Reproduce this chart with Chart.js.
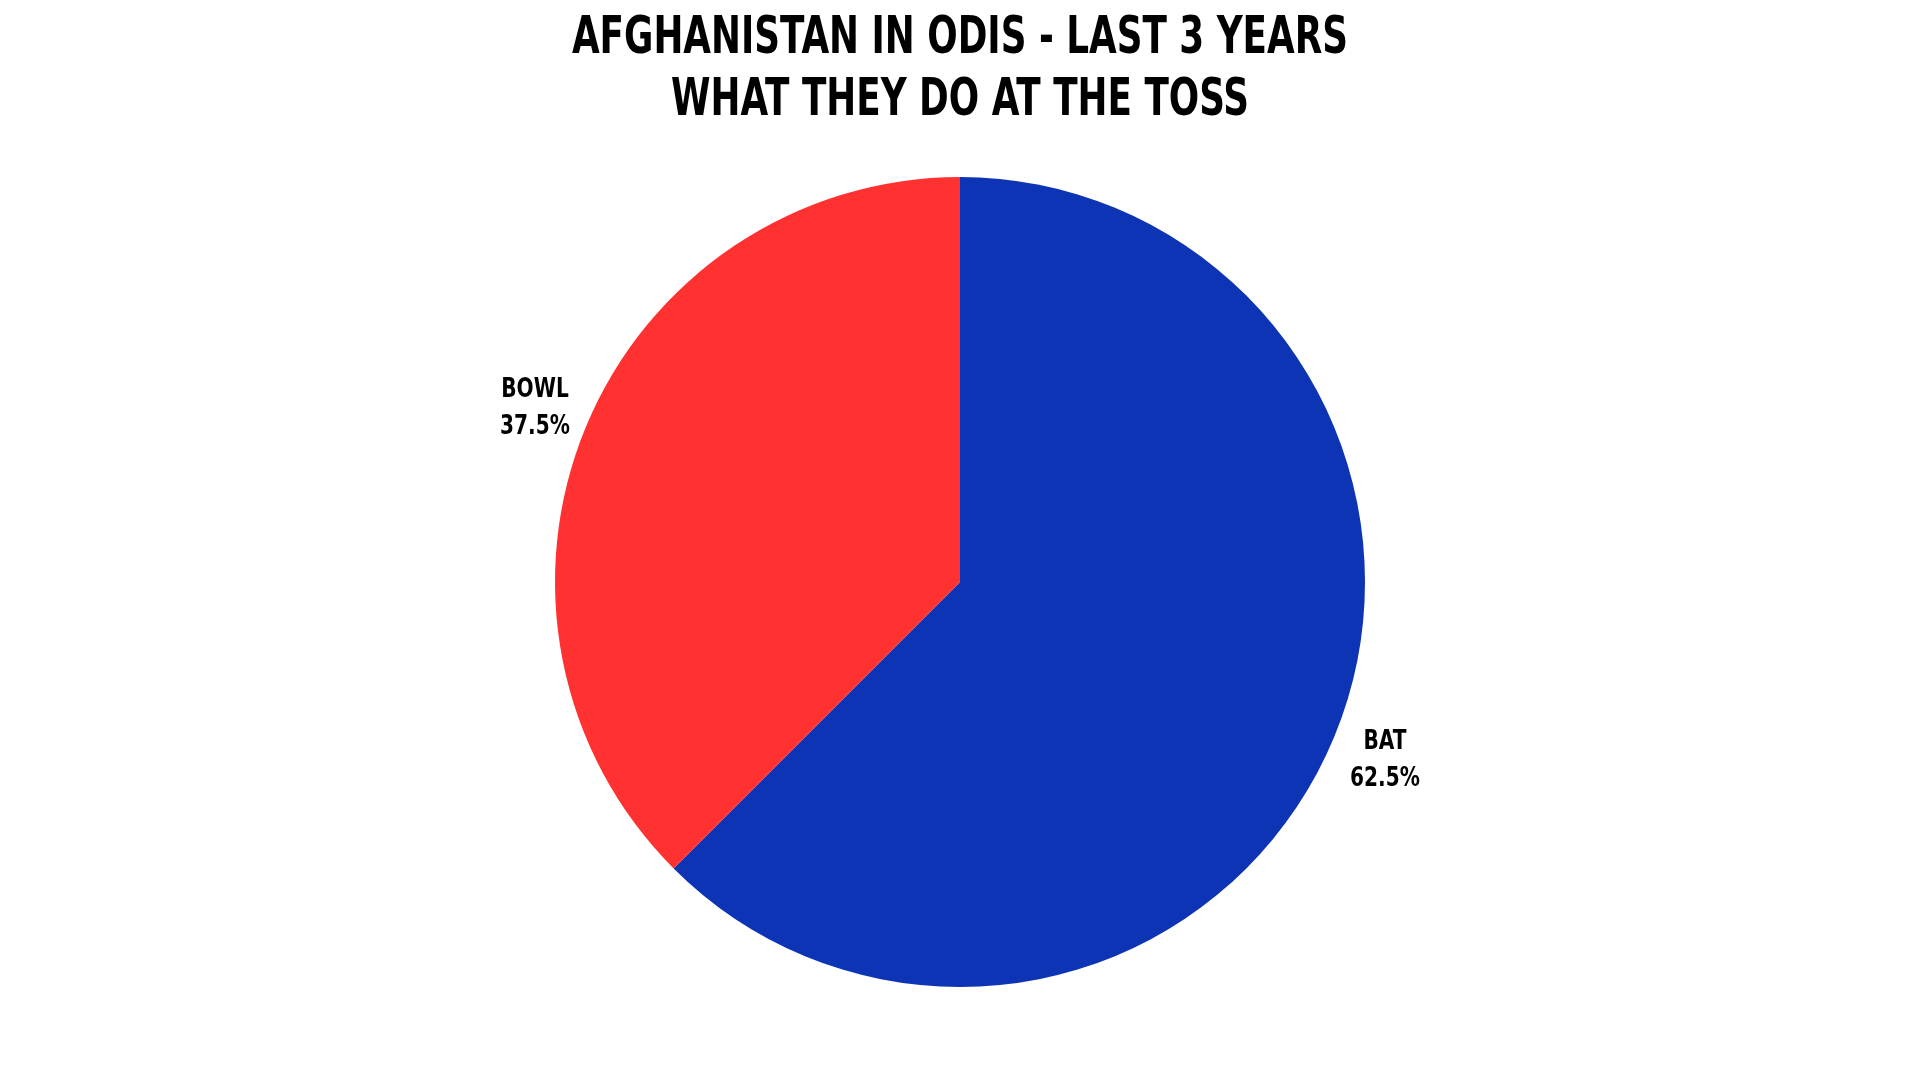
<!DOCTYPE html>
<html>
<head>
<meta charset="utf-8">
<script src="https://cdn.jsdelivr.net/npm/chart.js@4"></script>
<style>
  html, body { margin: 0; padding: 0; background: #ffffff; }
  #wrap { width: 1920px; height: 1080px; position: relative; }
</style>
</head>
<body>
<div id="wrap"><canvas id="chart"></canvas></div>
<script>
// Data
const labels  = ['BAT', 'BOWL'];
const shares  = [62.5, 37.5];
const colors  = ['#0c34b5', '#ff3131'];
const titleLines = ['AFGHANISTAN IN ODIS - LAST 3 YEARS', 'WHAT THEY DO AT THE TOSS'];

const FONT = '"DejaVu Sans Condensed", sans-serif';
const TITLE_SQUEEZE = 0.765;  // poster font is narrower than anything installed
const LABEL_SQUEEZE = 0.86;

// write text squeezed horizontally around its centre
function squeezedText(ctx, text, x, y, sx) {
  ctx.save();
  ctx.translate(x, y);
  ctx.scale(sx, 1);
  ctx.fillText(text, 0, 0);
  ctx.restore();
}

// two-line title at the top
const posterTitle = {
  id: 'posterTitle',
  afterDraw(chart) {
    const { ctx, width } = chart;
    ctx.save();
    ctx.fillStyle = '#000';
    ctx.textAlign = 'center';
    ctx.textBaseline = 'alphabetic';
    ctx.font = 'bold 52px ' + FONT;
    squeezedText(ctx, titleLines[0], width / 2, 53, TITLE_SQUEEZE);
    squeezedText(ctx, titleLines[1], width / 2, 115, TITLE_SQUEEZE);
    ctx.restore();
  }
};

// draws "LABEL / xx.x%" just outside each slice
const outsideLabels = {
  id: 'outsideLabels',
  afterDatasetsDraw(chart) {
    const { ctx } = chart;
    const meta = chart.getDatasetMeta(0);
    ctx.save();
    ctx.fillStyle = '#000';
    ctx.textAlign = 'center';
    ctx.textBaseline = 'alphabetic';
    ctx.font = 'bold 26px ' + FONT;
    meta.data.forEach((arc, i) => {
      const p = arc.getProps(['x', 'y', 'startAngle', 'endAngle', 'outerRadius'], true);
      const mid = (p.startAngle + p.endAngle) / 2;
      const r = p.outerRadius + 55;
      const x = p.x + Math.cos(mid) * r;
      const y = p.y + Math.sin(mid) * r;
      squeezedText(ctx, labels[i], x, y - 9, LABEL_SQUEEZE);
      squeezedText(ctx, shares[i].toFixed(1) + '%', x, y + 28, LABEL_SQUEEZE);
    });
    ctx.restore();
  }
};

new Chart(document.getElementById('chart'), {
  type: 'pie',
  data: {
    labels,
    datasets: [{
      data: shares,
      backgroundColor: colors,
      borderWidth: 0,
    }],
  },
  options: {
    responsive: true,
    maintainAspectRatio: false,
    animation: false,
    layout: { padding: { top: 177, bottom: 93, left: 0, right: 0 } },
    plugins: {
      legend: { display: false },
      tooltip: { enabled: false },
      title: { display: false },
    },
  },
  plugins: [outsideLabels, posterTitle],
});
</script>
</body>
</html>
